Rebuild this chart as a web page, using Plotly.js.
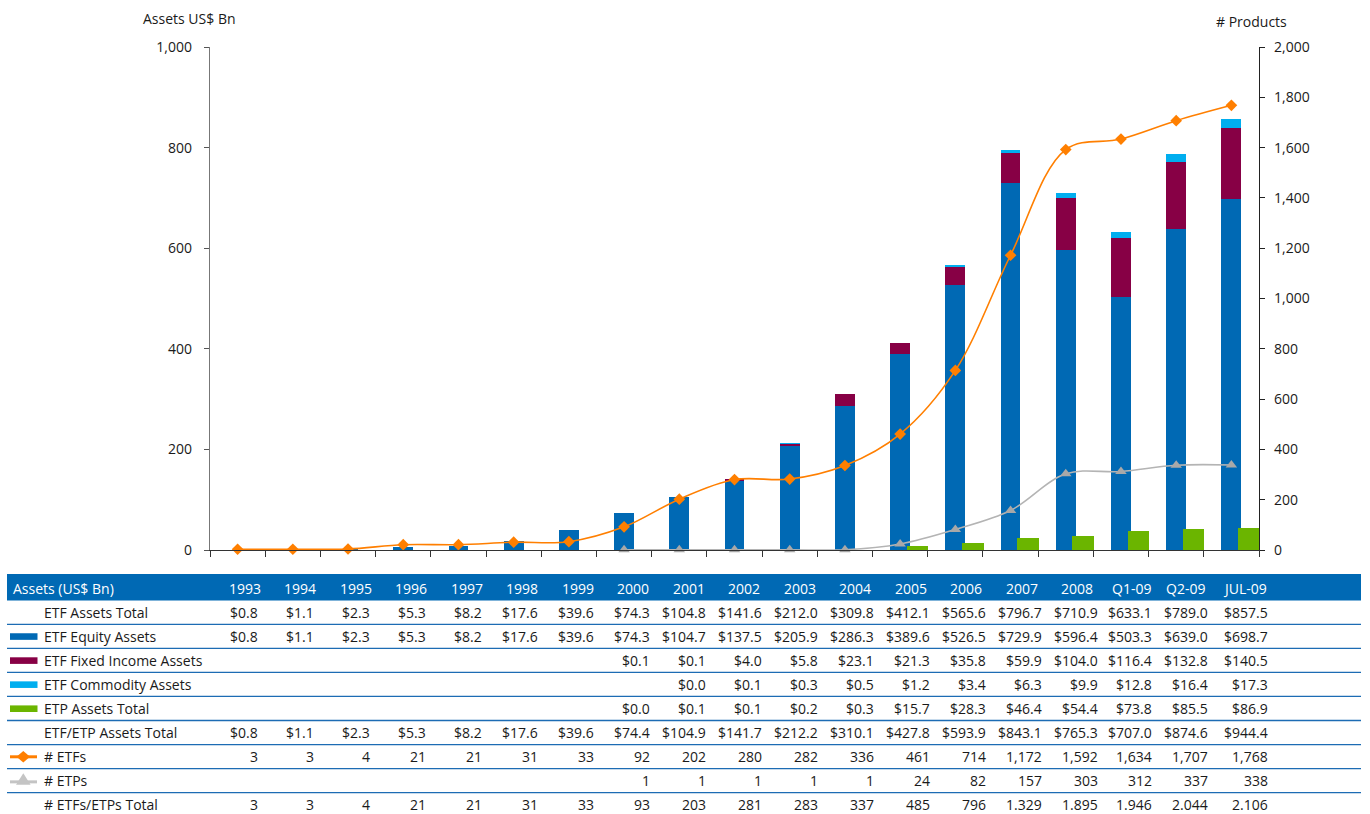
<!DOCTYPE html>
<html>
<head>
<meta charset="utf-8">
<script src="https://cdn.plot.ly/plotly-3.0.1.min.js"></script>
<style>
  html, body { margin: 0; padding: 0; background: #ffffff; }
  #chart { width: 1370px; height: 814px; }
</style>
</head>
<body>
<div id="chart"></div>
<script>
// ---------------- DATA ----------------
const periods = ['1993','1994','1995','1996','1997','1998','1999','2000','2001','2002','2003','2004','2005','2006','2007','2008','Q1-09','Q2-09','JUL-09'];

const etfAssetsTotal   = [0.8, 1.1, 2.3, 5.3, 8.2, 17.6, 39.6, 74.3, 104.8, 141.6, 212.0, 309.8, 412.1, 565.6, 796.7, 710.9, 633.1, 789.0, 857.5];
const etfEquity        = [0.8, 1.1, 2.3, 5.3, 8.2, 17.6, 39.6, 74.3, 104.7, 137.5, 205.9, 286.3, 389.6, 526.5, 729.9, 596.4, 503.3, 639.0, 698.7];
const etfFixedIncome   = [null, null, null, null, null, null, null, 0.1, 0.1, 4.0, 5.8, 23.1, 21.3, 35.8, 59.9, 104.0, 116.4, 132.8, 140.5];
const etfCommodity     = [null, null, null, null, null, null, null, null, 0.0, 0.1, 0.3, 0.5, 1.2, 3.4, 6.3, 9.9, 12.8, 16.4, 17.3];
const etpAssetsTotal   = [null, null, null, null, null, null, null, 0.0, 0.1, 0.1, 0.2, 0.3, 15.7, 28.3, 46.4, 54.4, 73.8, 85.5, 86.9];
const etfEtpAssetsTotal= [0.8, 1.1, 2.3, 5.3, 8.2, 17.6, 39.6, 74.4, 104.9, 141.7, 212.2, 310.1, 427.8, 593.9, 843.1, 765.3, 707.0, 874.6, 944.4];
const numETFs          = [3, 3, 4, 21, 21, 31, 33, 92, 202, 280, 282, 336, 461, 714, 1172, 1592, 1634, 1707, 1768];
const numETPs          = [null, null, null, null, null, null, null, 1, 1, 1, 1, 1, 24, 82, 157, 303, 312, 337, 338];
const numTotal         = [3, 3, 4, 21, 21, 31, 33, 93, 203, 281, 283, 337, 485, 796, 1329, 1895, 1946, 2044, 2106];

const seriesNames = ['ETF Equity Assets', 'ETF Fixed Income Assets', 'ETF Commodity Assets', 'ETP Assets Total', '# ETFs', '# ETPs'];
const tableHeader = 'Assets (US$ Bn)';
const axisTitleLeft = 'Assets US$ Bn';
const axisTitleRight = '# Products';

// ---------------- STYLE ----------------
const C_EQ = '#0069B4', C_FI = '#870045', C_CO = '#00AEEF', C_ETP = '#6BB500';
const C_ORANGE = '#FF7F00', C_GRAY = '#B4B4B4', C_GRAYM = '#A8A8A8';
const FONT = 'Open Sans, Noto Sans, sans-serif';
const TXT = '#1a1a1a';

const W = 1370, H = 814, ML = 210, MR = 111, MT = 47, MB = 264;
const PW = W - ML - MR, PH = H - MT - MB;
const px = x => (x - ML) / PW;
const py = y => (H - MB - y) / PH;

// ---------------- TRACES ----------------
const traces = [
  { type: 'bar', x: periods, y: etfEquity, name: seriesNames[0], marker: { color: C_EQ }, width: 0.36, offset: -0.18, yaxis: 'y' },
  { type: 'bar', x: periods, y: etfFixedIncome, name: seriesNames[1], marker: { color: C_FI }, width: 0.36, offset: -0.18, yaxis: 'y' },
  { type: 'bar', x: periods, y: etfCommodity, name: seriesNames[2], marker: { color: C_CO }, width: 0.36, offset: -0.18, yaxis: 'y' },
  { type: 'bar', x: periods, y: etpAssetsTotal, name: seriesNames[3], marker: { color: C_ETP }, width: 0.39, offset: 0.12, yaxis: 'y2' },
  { type: 'scatter', mode: 'lines+markers', x: periods, y: numETPs, name: seriesNames[5], yaxis: 'y2', cliponaxis: false,
    line: { color: C_GRAY, width: 1.6, shape: 'spline' }, marker: { symbol: 'triangle-up', size: 10, color: C_GRAYM } },
  { type: 'scatter', mode: 'lines+markers', x: periods, y: numETFs, name: seriesNames[4], yaxis: 'y2', cliponaxis: false,
    line: { color: C_ORANGE, width: 1.6, shape: 'spline' }, marker: { symbol: 'diamond', size: 9, color: C_ORANGE } }
];

// ---------------- TABLE ----------------
const money = v => (v == null ? '' : '$' + v.toFixed(1));
const count = v => (v == null ? '' : v.toLocaleString('en-US'));
const countDot = v => count(v).replace(/,/g, '.');

const rows = [
  { label: 'ETF Assets Total', vals: etfAssetsTotal, fmt: money },
  { label: seriesNames[0], vals: etfEquity, fmt: money },
  { label: seriesNames[1], vals: etfFixedIncome, fmt: money },
  { label: seriesNames[2], vals: etfCommodity, fmt: money },
  { label: seriesNames[3], vals: etpAssetsTotal, fmt: money },
  { label: 'ETF/ETP Assets Total', vals: etfEtpAssetsTotal, fmt: money },
  { label: seriesNames[4], vals: numETFs, fmt: count },
  { label: seriesNames[5], vals: numETPs, fmt: count },
  { label: '# ETFs/ETPs Total', vals: numTotal, fmt: countDot }
];

const lastHead = [1153, 1207, 1269];
const lastVal = [1153, 1209, 1269];
const headRight = i => (i < 16 ? 263 + 55.47 * i : lastHead[i - 16]);
const valRight = i => (i < 16 ? 259 + 56.0 * i : lastVal[i - 16]);
const headerY = 588, rowY0 = 612.5, rowH = 24.05;

const annotations = [];
const shapes = [];

// axis titles
annotations.push({ xref: 'paper', yref: 'paper', x: px(189), y: py(19), text: axisTitleLeft, showarrow: false,
  xanchor: 'center', yanchor: 'middle', font: { family: FONT, size: 14, color: TXT } });
annotations.push({ xref: 'paper', yref: 'paper', x: px(1251), y: py(21), text: axisTitleRight, showarrow: false,
  xanchor: 'center', yanchor: 'middle', font: { family: FONT, size: 14, color: TXT } });

// header band
shapes.push({ type: 'rect', xref: 'paper', yref: 'paper', x0: px(7), x1: px(1361), y0: py(600.5), y1: py(574),
  fillcolor: C_EQ, line: { width: 0 }, layer: 'below' });
annotations.push({ xref: 'paper', yref: 'paper', x: px(11), y: py(headerY), text: tableHeader, showarrow: false,
  xanchor: 'left', yanchor: 'middle', font: { family: FONT, size: 14, color: '#ffffff' } });
periods.forEach((p, i) => {
  annotations.push({ xref: 'paper', yref: 'paper', x: px(headRight(i)), y: py(headerY), text: p, showarrow: false,
    xanchor: 'right', yanchor: 'middle', font: { family: FONT, size: 14, color: '#ffffff' } });
});

// separator lines
for (let k = 0; k < 8; k++) {
  const yy = rowY0 + rowH * k + 11.8;
  shapes.push({ type: 'line', xref: 'paper', yref: 'paper', x0: px(7), x1: px(1361), y0: py(yy), y1: py(yy),
    line: { color: '#1C6CB4', width: 1.3 } });
}

// rows
rows.forEach((r, ri) => {
  const yy = rowY0 + rowH * ri;
  annotations.push({ xref: 'paper', yref: 'paper', x: px(42), y: py(yy), text: r.label, showarrow: false,
    xanchor: 'left', yanchor: 'middle', font: { family: FONT, size: 14, color: TXT } });
  r.vals.forEach((v, i) => {
    const t = r.fmt(v);
    if (t === '') return;
    annotations.push({ xref: 'paper', yref: 'paper', x: px(valRight(i) + 1), y: py(yy), text: t, showarrow: false,
      xanchor: 'right', yanchor: 'middle', font: { family: FONT, size: 14, color: TXT } });
  });
});

// legend swatches in table
[C_EQ, C_FI, C_CO, C_ETP].forEach((c, k) => {
  const yy = rowY0 + rowH * (k + 1);
  shapes.push({ type: 'rect', xref: 'paper', yref: 'paper', x0: px(10), x1: px(37.5), y0: py(yy + 3.3), y1: py(yy - 3.3),
    fillcolor: c, line: { width: 0 } });
});
{
  const yo = rowY0 + rowH * 6;
  shapes.push({ type: 'line', xref: 'paper', yref: 'paper', x0: px(10), x1: px(37), y0: py(yo), y1: py(yo),
    line: { color: C_ORANGE, width: 3 } });
  shapes.push({ type: 'path', xref: 'paper', yref: 'paper',
    path: `M ${px(16.5)} ${py(yo)} L ${px(23.3)} ${py(yo - 5.7)} L ${px(30)} ${py(yo)} L ${px(23.3)} ${py(yo + 5.7)} Z`,
    fillcolor: C_ORANGE, line: { width: 0 } });
  const yg = rowY0 + rowH * 7;
  shapes.push({ type: 'line', xref: 'paper', yref: 'paper', x0: px(10), x1: px(37), y0: py(yg + 1), y1: py(yg + 1),
    line: { color: '#C4C4C4', width: 3 } });
  shapes.push({ type: 'path', xref: 'paper', yref: 'paper',
    path: `M ${px(16)} ${py(yg + 4)} L ${px(23.3)} ${py(yg - 7.5)} L ${px(30.6)} ${py(yg + 4)} Z`,
    fillcolor: '#C4C4C4', line: { width: 0 } });
}

// ---------------- LAYOUT ----------------
const layout = {
  width: W, height: H,
  margin: { l: ML, r: MR, t: MT, b: MB, pad: 0 },
  paper_bgcolor: '#ffffff', plot_bgcolor: '#ffffff',
  font: { family: FONT, size: 14, color: TXT },
  showlegend: false,
  barmode: 'stack',
  xaxis: {
    type: 'category', range: [-0.5, periods.length - 0.5], showticklabels: false,
    ticks: 'outside', tickson: 'boundaries', ticklen: 6, tickcolor: '#333', tickwidth: 1,
    showline: true, linecolor: '#333', linewidth: 1, showgrid: false, zeroline: false, fixedrange: true, automargin: false
  },
  yaxis: {
    range: [0, 1000], dtick: 200, tick0: 0, tickformat: ',d',
    ticks: 'outside', ticklen: 5, tickcolor: '#555', tickwidth: 1, ticklabelstandoff: 9,
    showline: true, linecolor: '#777', linewidth: 1.2, showgrid: false, zeroline: false, automargin: false,
    tickfont: { family: FONT, size: 14, color: TXT }
  },
  yaxis2: {
    overlaying: 'y', side: 'right', range: [0, 2000], dtick: 200, tick0: 0, tickformat: ',d',
    ticks: 'outside', ticklen: 5, tickcolor: '#222', tickwidth: 1, ticklabelstandoff: 6,
    showline: true, linecolor: '#222', linewidth: 1.2, showgrid: false, zeroline: false, automargin: false,
    tickfont: { family: FONT, size: 14, color: TXT }
  },
  annotations: annotations,
  shapes: shapes
};

Plotly.newPlot('chart', traces, layout, { staticPlot: true, displayModeBar: false });
</script>
</body>
</html>
